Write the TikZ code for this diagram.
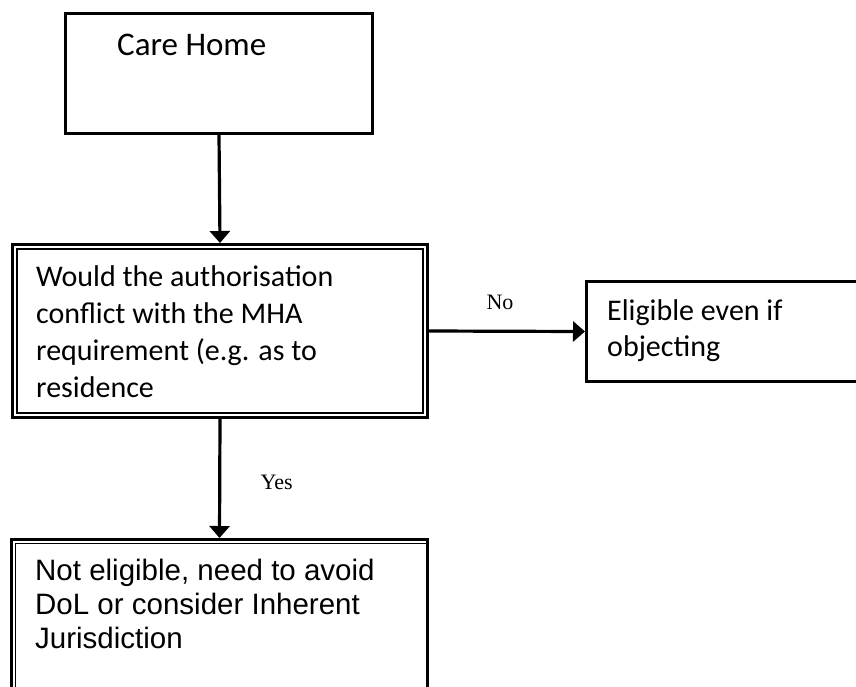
\documentclass[tikz,border=0pt]{standalone}
\usepackage{fontspec}
\setmainfont{Carlito}
\newfontfamily\arialfont{Liberation Sans}
\newfontfamily\labelfont{Liberation Serif}
\usetikzlibrary{arrows.meta}
\begin{document}
\begin{tikzpicture}[x=1pt,y=-1pt,
  box/.style={draw, line width=3pt, rectangle, inner sep=0pt},
  innerline/.style={draw, line width=1.2pt},
  flow/.style={line width=3.2pt, -{Triangle[width=20pt,length=12pt]}},
  txt/.style={anchor=base west, align=left, inner sep=0pt, font=\fontsize{30}{37}\selectfont},
  atxt/.style={anchor=base west, align=left, inner sep=0pt, font=\arialfont\fontsize{29.5}{34}\selectfont},
  lbl/.style={inner sep=0pt, font=\labelfont\fontsize{22}{24}\selectfont}]
\useasboundingbox (0,0) rectangle (856,686);
\clip (0,0) rectangle (856,686);
% boxes
\node[box, minimum width=307pt, minimum height=120pt] (b1) at (219,73.5) {};
\node[box, minimum width=415pt, minimum height=173pt] (b2) at (220,331) {};
\node[box, minimum width=330pt, minimum height=100pt] (b3) at (751.5,331.5) {};
\node[box, minimum width=416pt, minimum height=200pt] (b4) at (219.5,639.5) {};
% inner lines of double boxes
\draw[innerline] ([shift={(6,6)}]b2.north west) rectangle ([shift={(-6,-6)}]b2.south east);
\draw[innerline] ([shift={(5.5,0)}]b4.south west) -- ([shift={(5.5,5.5)}]b4.north west) -- ([shift={(-3,5.5)}]b4.north east);
% texts (base anchor = baseline of the last line)
\node[txt, font=\fontsize{33}{40}\selectfont] (t1) at (117,55) {Care Home};
\node[txt] (t2) at (36,397) {Would the authorisation\\conflict with the MHA\\requirement (e.g. as to\\residence};
\node[txt, font=\fontsize{30}{36}\selectfont] (t3) at (607,356) {Eligible even if\\objecting};
\node[atxt] (t4) at (35,648) {Not eligible, need to avoid\\DoL or consider Inherent\\Jurisdiction};
% connectors
\draw[flow] (b1.south) -- (b2.north);
\draw[flow] (b2.east) -- node[lbl, at start, anchor=base west, xshift=56pt, yshift=22pt] {No} (b3.west);
\draw[flow] (b2.south) -- node[lbl, at start, anchor=base west, xshift=39pt, yshift=-70pt] {Yes} (b4.north);
\end{tikzpicture}
\end{document}
